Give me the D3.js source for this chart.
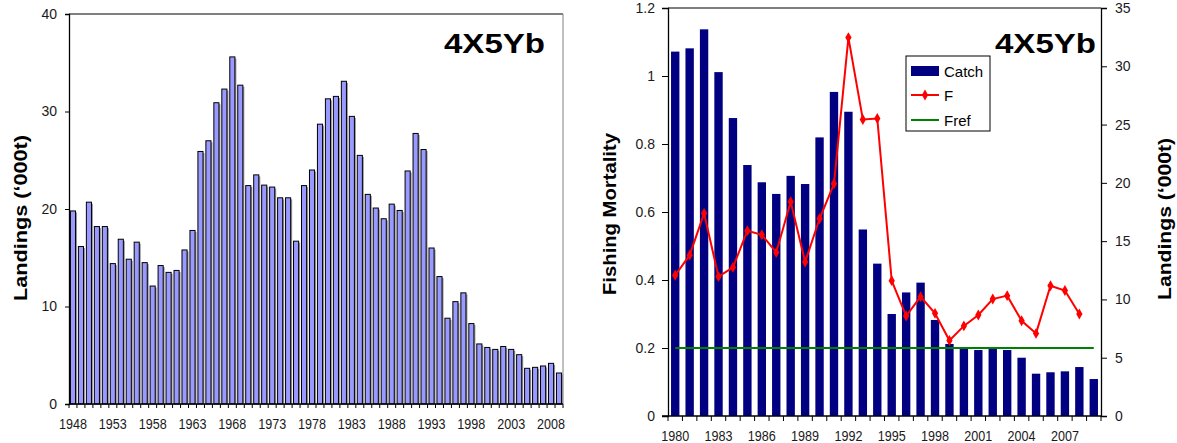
<!DOCTYPE html>
<html><head><meta charset="utf-8">
<script src="https://cdn.jsdelivr.net/npm/d3@7"></script>
<style>
body{margin:0;background:#fff;}
svg{display:block;font-family:"Liberation Sans",Arial,sans-serif;}
</style></head>
<body><svg id="c" width="1177" height="443"></svg>
<script>
// ---- data ----
const leftYears = d3.range(1948, 2010);
const leftLandings = [19.8,16.15,20.7,18.2,18.2,14.4,16.9,14.85,16.6,14.5,12.1,14.2,13.5,13.7,15.8,17.8,25.9,27.0,30.9,32.3,35.6,32.7,22.4,23.5,22.45,22.25,21.15,21.15,16.7,22.4,24.0,28.7,31.3,31.55,33.1,29.5,25.5,21.5,20.1,19.0,20.5,19.85,23.9,27.75,26.1,16.0,13.07,8.8,10.5,11.4,8.25,6.16,5.8,5.6,5.9,5.6,5.06,3.66,3.76,3.9,4.17,3.18];
const leftYTicks = [0,10,20,30,40];
const leftXLabels = [1948,1953,1958,1963,1968,1973,1978,1983,1988,1993,1998,2003,2008];

const rightYears = d3.range(1980, 2010);
const catchVals = [31.26,31.54,33.17,29.5,25.56,21.53,20.05,19.05,20.6,19.9,23.9,27.8,26.1,16.0,13.07,8.75,10.6,11.44,8.24,6.18,5.78,5.66,5.92,5.66,5.0,3.63,3.75,3.83,4.2,3.17];
const fYears = d3.range(1980, 2009);
const fVals = [0.414,0.473,0.596,0.41,0.437,0.545,0.533,0.481,0.630,0.453,0.580,0.683,1.113,0.872,0.875,0.398,0.294,0.351,0.302,0.222,0.265,0.297,0.344,0.354,0.280,0.243,0.383,0.369,0.300];
const fref = 0.2;
const fTicks = [0,0.2,0.4,0.6,0.8,1,1.2];
const landTicks = [0,5,10,15,20,25,30,35];
const rightXLabels = [1980,1983,1986,1989,1992,1995,1998,2001,2004,2007];
const legendItems = ["Catch","F","Fref"];
const title = "4X5Yb";

const svg = d3.select("#c");
const txt = "#1a1a1a";

// ================= LEFT CHART =================
{
  const L = 69, R = 563, T = 14, B = 404;
  const x = d3.scaleBand().domain(leftYears).range([L, R]).paddingInner(0.36).paddingOuter(0.18);
  const y = d3.scaleLinear().domain([0, 40]).range([B, T]);
  const g = svg.append("g");
  g.append("line").attr("x1", L).attr("x2", R).attr("y1", T).attr("y2", T).attr("stroke", "#000").attr("stroke-width", 1);
  g.append("line").attr("x1", R).attr("x2", R).attr("y1", T).attr("y2", B).attr("stroke", "#808080").attr("stroke-width", 1);
  g.selectAll("rect.sh").data(leftYears).join("rect").attr("class", "sh")
    .attr("x", d => x(d) + 1.5).attr("width", x.bandwidth())
    .attr("y", (d, i) => y(leftLandings[i]) + 1.5).attr("height", (d, i) => B - y(leftLandings[i]) - 1.5)
    .attr("fill", "#9a9a9a");
  g.selectAll("rect.bar").data(leftYears).join("rect").attr("class", "bar")
    .attr("x", d => x(d)).attr("width", x.bandwidth())
    .attr("y", (d, i) => y(leftLandings[i])).attr("height", (d, i) => B - y(leftLandings[i]))
    .attr("fill", "#9999ff").attr("stroke", "#000").attr("stroke-width", 1);
  const ya = g.append("g").attr("transform", `translate(${L},0)`)
    .call(d3.axisLeft(y).tickValues(leftYTicks).tickSize(4).tickPadding(8).tickFormat(d3.format("d")));
  ya.select(".domain").attr("stroke", "#000").attr("stroke-width", 1.3);
  ya.selectAll("text").attr("font-size", 14).attr("fill", txt).attr("font-family", "inherit");
  const step = x.step();
  const bounds = leftYears.map(d => x(d) - x.paddingInner() * step / 2).concat([R]);
  g.append("line").attr("x1", L).attr("x2", R).attr("y1", B).attr("y2", B).attr("stroke", "#000").attr("stroke-width", 1.3);
  g.selectAll("line.xt").data(bounds).join("line").attr("class", "xt")
    .attr("x1", d => d).attr("x2", d => d).attr("y1", B).attr("y2", B + 4).attr("stroke", "#000");
  g.selectAll("text.xl").data(leftXLabels).join("text").attr("class", "xl")
    .attr("x", d => x(d) + x.bandwidth() / 2).attr("y", 429).attr("text-anchor", "middle")
    .attr("font-size", 14).attr("fill", txt)
    .attr("textLength", 28).attr("lengthAdjust", "spacingAndGlyphs").text(d => d);
  g.append("text").attr("transform", "translate(27,218) rotate(-90)").attr("text-anchor", "middle")
    .attr("font-size", 19).attr("font-weight", "bold").attr("fill", "#000")
    .attr("textLength", 166).attr("lengthAdjust", "spacingAndGlyphs")
    .text("Landings (\u2018000t)");
  g.append("text").attr("x", 545).attr("y", 53).attr("text-anchor", "end")
    .attr("font-size", 28).attr("font-weight", "bold").attr("fill", "#000")
    .attr("textLength", 101).attr("lengthAdjust", "spacingAndGlyphs").text(title);
}

// ================= RIGHT CHART =================
{
  const L = 668, R = 1101, T = 8, B = 416;
  const x = d3.scaleBand().domain(rightYears).range([L, R]).paddingInner(0.42).paddingOuter(0.21);
  const yF = d3.scaleLinear().domain([0, 1.2]).range([B, T]);
  const yC = d3.scaleLinear().domain([0, 35]).range([B, T]);
  const cx = d => x(d) + x.bandwidth() / 2;
  const g = svg.append("g");
  g.append("line").attr("x1", L).attr("x2", R).attr("y1", T).attr("y2", T).attr("stroke", "#000").attr("stroke-width", 1.2);
  g.selectAll("rect.cb").data(rightYears).join("rect").attr("class", "cb")
    .attr("x", d => x(d)).attr("width", x.bandwidth())
    .attr("y", (d, i) => yC(catchVals[i])).attr("height", (d, i) => B - yC(catchVals[i]))
    .attr("fill", "#000080");
  g.append("line").attr("x1", cx(rightYears[0])).attr("x2", cx(rightYears[rightYears.length - 1]))
    .attr("y1", yF(fref)).attr("y2", yF(fref)).attr("stroke", "#008000").attr("stroke-width", 2);
  const line = d3.line().x((d, i) => cx(fYears[i])).y(d => yF(d));
  g.append("path").datum(fVals).attr("d", line).attr("fill", "none").attr("stroke", "#ff0000").attr("stroke-width", 2);
  const sym = d3.symbol().type(d3.symbolDiamond).size(34);
  g.selectAll("path.fm").data(fVals).join("path").attr("class", "fm")
    .attr("transform", (d, i) => `translate(${cx(fYears[i])},${yF(d)})`).attr("d", sym).attr("fill", "#ff0000");
  const ya = g.append("g").attr("transform", `translate(${L},0)`)
    .call(d3.axisLeft(yF).tickValues(fTicks).tickSize(6).tickPadding(7).tickFormat(d => d3.format("")(+d.toFixed(1))));
  ya.select(".domain").attr("stroke", "#000").attr("stroke-width", 1.3);
  ya.selectAll("text").attr("font-size", 14).attr("fill", txt).attr("font-family", "inherit");
  const yb = g.append("g").attr("transform", `translate(${R},0)`)
    .call(d3.axisRight(yC).tickValues(landTicks).tickSize(6).tickPadding(8).tickFormat(d3.format("d")));
  yb.select(".domain").attr("stroke", "#000").attr("stroke-width", 1.3);
  yb.selectAll("text").attr("font-size", 14).attr("fill", txt).attr("font-family", "inherit");
  const step = x.step();
  const bounds = rightYears.map(d => x(d) - x.paddingInner() * step / 2).concat([R]);
  g.append("line").attr("x1", L - 6).attr("x2", R).attr("y1", B).attr("y2", B).attr("stroke", "#000").attr("stroke-width", 1.3);
  g.selectAll("line.xt").data(bounds).join("line").attr("class", "xt")
    .attr("x1", d => d).attr("x2", d => d).attr("y1", B).attr("y2", B + 5).attr("stroke", "#000");
  g.selectAll("text.xl").data(rightXLabels).join("text").attr("class", "xl")
    .attr("x", d => cx(d)).attr("y", 441).attr("text-anchor", "middle")
    .attr("font-size", 14).attr("fill", txt)
    .attr("textLength", 28).attr("lengthAdjust", "spacingAndGlyphs").text(d => d);
  g.append("text").attr("transform", "translate(616,214) rotate(-90)").attr("text-anchor", "middle")
    .attr("font-size", 19).attr("font-weight", "bold").attr("fill", "#000")
    .attr("textLength", 162).attr("lengthAdjust", "spacingAndGlyphs").text("Fishing Mortality");
  g.append("text").attr("transform", "translate(1171,219) rotate(-90)").attr("text-anchor", "middle")
    .attr("font-size", 19).attr("font-weight", "bold").attr("fill", "#000")
    .attr("textLength", 162).attr("lengthAdjust", "spacingAndGlyphs").text("Landings (\u2018000t)");
  g.append("text").attr("x", 1096).attr("y", 53).attr("text-anchor", "end")
    .attr("font-size", 28).attr("font-weight", "bold").attr("fill", "#000")
    .attr("textLength", 101).attr("lengthAdjust", "spacingAndGlyphs").text(title);
  const lg = g.append("g");
  lg.append("rect").attr("x", 906).attr("y", 56).attr("width", 84).attr("height", 75)
    .attr("fill", "#fff").attr("stroke", "#000").attr("stroke-width", 1);
  const rowsY = [71, 95, 120];
  lg.append("rect").attr("x", 911).attr("y", 66).attr("width", 28).attr("height", 10).attr("fill", "#000080");
  lg.append("line").attr("x1", 911).attr("x2", 939).attr("y1", rowsY[1]).attr("y2", rowsY[1]).attr("stroke", "#ff0000").attr("stroke-width", 2);
  lg.append("path").attr("transform", `translate(925,${rowsY[1]})`).attr("d", sym).attr("fill", "#ff0000");
  lg.append("line").attr("x1", 911).attr("x2", 939).attr("y1", rowsY[2]).attr("y2", rowsY[2]).attr("stroke", "#008000").attr("stroke-width", 2);
  lg.selectAll("text").data(legendItems).join("text")
    .attr("x", 944).attr("y", (d, i) => rowsY[i] + 5.5)
    .attr("font-size", 15).attr("fill", "#000").text(d => d);
}
</script></body></html>
